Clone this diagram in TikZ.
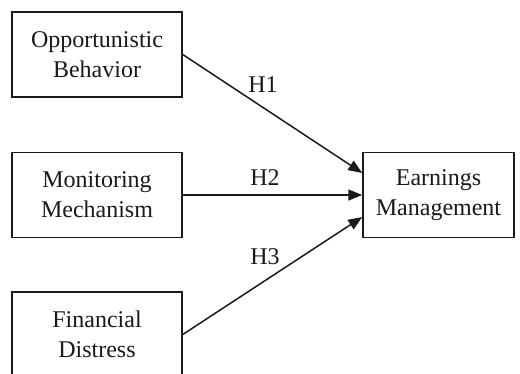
\documentclass[tikz,border=0pt]{standalone}
\usepackage{fontspec}
\setmainfont{Liberation Serif}
\usepackage{xcolor}
\usetikzlibrary{arrows.meta}
\definecolor{ink}{HTML}{1A1A1A}
\tikzset{
  box/.style={draw=ink, line width=1.5pt, fill=white, align=center, text=ink,
    minimum width=170pt, minimum height=85pt, inner sep=0pt,
    font=\fontsize{24}{30}\selectfont},
  arr/.style={draw=ink, line width=1.5pt, -{Triangle[length=14pt,width=11pt]}},
  hlbl/.style={text=ink, font=\fontsize{24}{29}\selectfont}
}
\begin{document}
\begin{tikzpicture}[x=1pt,y=-1pt]
  \useasboundingbox (0,0) rectangle (520,374);
  \clip (0,0) rectangle (520,374);

  \node[box] (opp) at (97,54.5) {Opportunistic\\Behavior};
  \node[box] (mon) at (97,195) {Monitoring\\Mechanism};
  \node[box] (fin) at (97,334.5) {Financial\\Distress};
  \node[box, minimum width=151pt] (earn) at (438.5,195) {Earnings\\Management};

  \coordinate (earnA) at ([yshift=22pt]earn.west);
  \coordinate (earnC) at ([yshift=-22pt]earn.west);

  \draw[arr] (opp.east) -- (earnA);
  \draw[arr] (mon.east) -- (earn.west);
  \draw[arr] (fin.east) -- (earnC);

  \node[hlbl] (h1) at (263,85) {H1};
  \node[hlbl] (h2) at (265,178) {H2};
  \node[hlbl] (h3) at (265,257) {H3};
\end{tikzpicture}
\end{document}
